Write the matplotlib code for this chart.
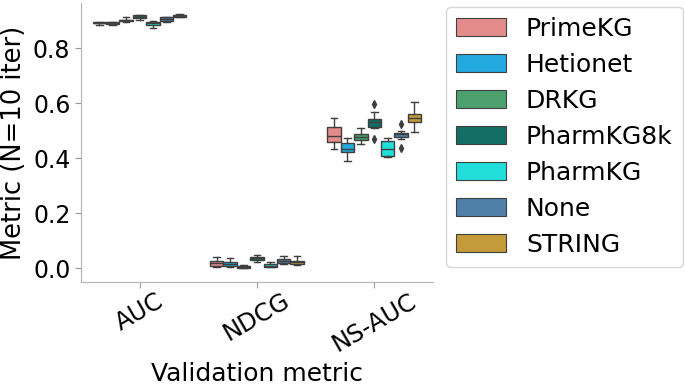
import numpy as np
import matplotlib
matplotlib.use("Agg")
import matplotlib.pyplot as plt
from matplotlib.patches import Patch

metrics = ["AUC", "NDCG", "NS-AUC"]
kgs = ["PrimeKG", "Hetionet", "DRKG", "PharmKG8k", "PharmKG", "None", "STRING"]
colors = ["#e48c8c", "#23a9de", "#4ba06d", "#146e66", "#22dedb", "#5080a8", "#c39b38"]

# box stats per metric, one value per KG
auc_lo = [0.886, 0.885, 0.896, 0.902, 0.875, 0.897, 0.912]
auc_q1 = [0.890, 0.889, 0.899, 0.908, 0.884, 0.899, 0.915]
auc_med = [0.892, 0.891, 0.901, 0.915, 0.890, 0.905, 0.918]
auc_q3 = [0.894, 0.894, 0.903, 0.920, 0.896, 0.912, 0.922]
auc_hi = [0.897, 0.897, 0.914, 0.922, 0.898, 0.914, 0.926]

ndcg_lo = [0.005, 0.004, 0.000, 0.023, 0.003, 0.013, 0.010]
ndcg_q1 = [0.008, 0.008, 0.001, 0.029, 0.004, 0.017, 0.015]
ndcg_med = [0.017, 0.013, 0.004, 0.035, 0.009, 0.027, 0.021]
ndcg_q3 = [0.027, 0.023, 0.008, 0.041, 0.015, 0.033, 0.027]
ndcg_hi = [0.039, 0.035, 0.010, 0.047, 0.023, 0.044, 0.042]

ns_lo = [0.433, 0.390, 0.452, 0.510, 0.405, 0.470, 0.496]
ns_q1 = [0.459, 0.421, 0.465, 0.514, 0.408, 0.475, 0.532]
ns_med = [0.481, 0.432, 0.475, 0.532, 0.432, 0.486, 0.547]
ns_q3 = [0.512, 0.456, 0.487, 0.542, 0.463, 0.493, 0.562]
ns_hi = [0.547, 0.472, 0.508, 0.568, 0.472, 0.497, 0.605]
ns_fliers = [[], [], [], [0.596, 0.468], [], [0.523, 0.435], []]

stats = {
    "AUC": (auc_lo, auc_q1, auc_med, auc_q3, auc_hi, [[]] * 7),
    "NDCG": (ndcg_lo, ndcg_q1, ndcg_med, ndcg_q3, ndcg_hi, [[]] * 7),
    "NS-AUC": (ns_lo, ns_q1, ns_med, ns_q3, ns_hi, ns_fliers),
}

fig = plt.figure(figsize=(6.85, 3.86), dpi=100)
ax = fig.add_axes([0.118, 0.27, 0.514, 0.722])

edge = "#3f3f3f"
w = 0.8 / len(kgs)
for ci, m in enumerate(metrics):
    lo, q1, med, q3, hi, fl = stats[m]
    for k in range(len(kgs)):
        pos = ci - 0.4 + w * (k + 0.5)
        st = [dict(whislo=lo[k], q1=q1[k], med=med[k], q3=q3[k], whishi=hi[k],
                   fliers=fl[k])]
        ax.bxp(st, positions=[pos], widths=w, patch_artist=True, manage_ticks=False,
               boxprops=dict(facecolor=colors[k], edgecolor=edge, linewidth=1),
               medianprops=dict(color=edge, linewidth=1),
               whiskerprops=dict(color=edge, linewidth=1),
               capprops=dict(color=edge, linewidth=1),
               flierprops=dict(marker="d", markerfacecolor=edge, markeredgecolor=edge,
                               markersize=4))

ax.set_xlim(-0.5, 2.5)
ax.set_ylim(-0.05, 0.964)
ax.set_xticks(range(len(metrics)))
ax.set_xticklabels(metrics, rotation=30, fontsize=17.5)
ax.set_yticks([0.0, 0.2, 0.4, 0.6, 0.8])
ax.set_yticklabels(["0.0", "0.2", "0.4", "0.6", "0.8"], fontsize=17)
ax.tick_params(color="0.6", length=4)
ax.tick_params(axis="x", pad=1)
for s in ["top", "right"]:
    ax.spines[s].set_visible(False)
for s in ["left", "bottom"]:
    ax.spines[s].set_color("0.7")
ax.set_xlabel("Validation metric", fontsize=18)
ax.set_ylabel("Metric (N=10 iter)", fontsize=18.5)

handles = [Patch(facecolor=c, edgecolor=edge, linewidth=0.8, label=k) for c, k in zip(colors, kgs)]
fig.legend(handles=handles, loc="upper left", bbox_to_anchor=(0.651, 0.982),
           bbox_transform=fig.transFigure, borderaxespad=0, fontsize=18,
           labelspacing=0.48, handlelength=2.0, handleheight=0.7, handletextpad=0.8)

fig.savefig("out.png", dpi=100)
